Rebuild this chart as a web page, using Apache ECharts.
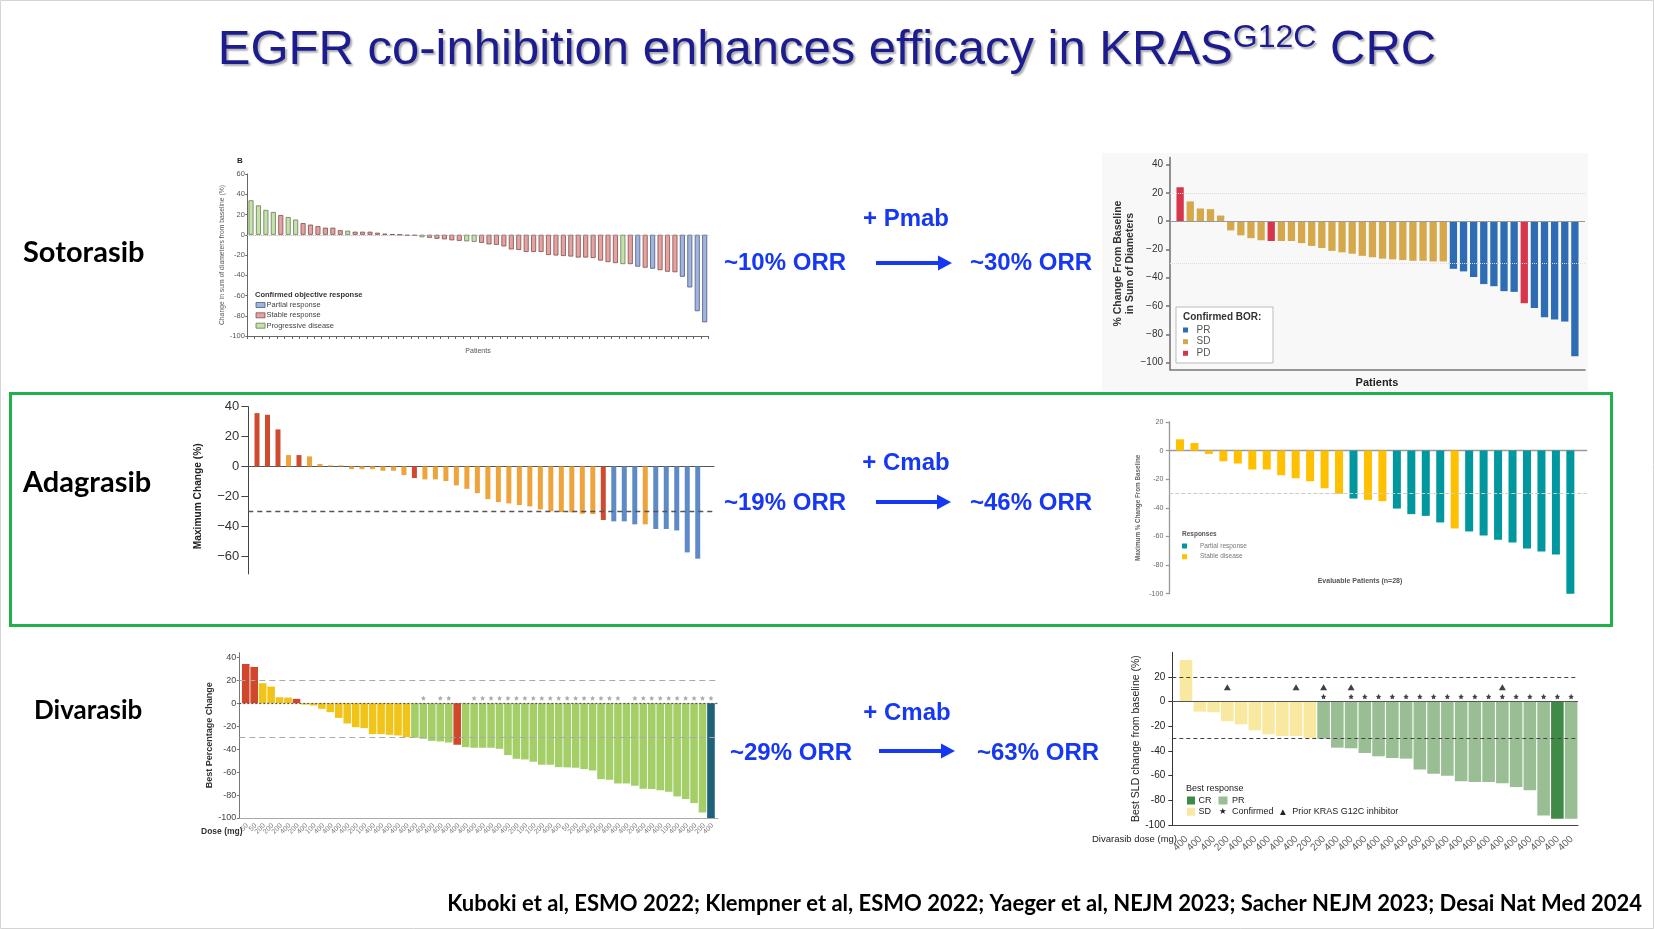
<!DOCTYPE html>
<html><head><meta charset="utf-8">
<script src="https://cdn.jsdelivr.net/npm/echarts@6/dist/echarts.min.js"></script>
<style>html,body{margin:0;padding:0;background:#fff}#c{width:1654px;height:929px}</style>
</head><body><div id="c"></div>
<script>
// ---------------- DATA ----------------
// Sotorasib monotherapy (Kuboki ESMO 2022 / CodeBreaK 100 CRC)
const sotoMonoValues = [34,29,24.5,22.5,19.5,17.5,15,11.5,10,8.5,7,7,4.5,4,3,3,3,2,1,0.5,0,-1,-1,-2.5,-3,-4,-4.5,-5.5,-6,-6.5,-7,-8,-9.5,-10,-11.5,-14.5,-15,-17,-17,-17,-20,-20.5,-21,-21.5,-22.5,-22.5,-23,-25.5,-27,-28,-29,-29,-31.5,-32.5,-33.5,-35,-36.5,-37,-41.5,-52,-75.5,-86.5];
// P = partial response, S = stable, D = progressive, C = complete
const sotoMonoResp = 'DDDDSDDSSSSSSDSSSSSSSSSDSSSSSDDSSSSSSSSSSSSSSSSSSSDSPSPSSSPPPP'.split('');
const sotoMonoTicks = [60,40,20,0,-20,-40,-60,-80,-100];

// Sotorasib + panitumumab
const sotoPmabValues = [24,14,9,8.5,4,-6.5,-10,-12,-13.5,-14,-14,-14,-15.5,-17.5,-19,-21,-22,-23,-24.5,-25.5,-26.5,-27,-27.5,-28,-28,-28.5,-28.5,-33.7,-35.5,-39.5,-44.5,-46,-49.5,-50,-58,-61.5,-68,-69.5,-71,-95.5];
const sotoPmabResp = 'DSSSSSSSSDSSSSSSSSSSSSSSSSSPPPPPPPDPPPPP'.split('');
const sotoPmabTicks = [40,20,0,-20,-40,-60,-80,-100];

// Adagrasib monotherapy
const adaMonoValues = [35.7,34.6,24.8,7.6,7.6,6.7,1.6,0.7,0.7,-1.8,-1.8,-1.8,-2.9,-2.9,-5.8,-7.8,-8.7,-8.7,-9.8,-12.7,-15,-17.9,-21.9,-23.9,-24.8,-25.9,-26.8,-28.8,-30.1,-30.6,-30.8,-31.7,-31.9,-35.9,-36.8,-36.8,-38.8,-38.8,-41.9,-41.9,-42.9,-57.6,-61.8];
const adaMonoResp = 'DDDSDSSSSSSSSSSDSSSSSSSSSSSSSSSSSDPPPSPPPPP'.split('');
const adaMonoTicks = [40,20,0,-20,-40,-60];

// Adagrasib + cetuximab
const adaCmabValues = [7.9,5.3,-2.3,-7.4,-9,-13.2,-13.2,-17.2,-19.3,-21.4,-26.3,-30.2,-33.5,-34.4,-35.3,-40.5,-44.4,-45.6,-50.2,-54.4,-56.5,-59.3,-62.3,-64.2,-68.4,-70.5,-72.6,-100];
const adaCmabResp = 'SSSSSSSSSSSSPSSPPPPSPPPPPPPP'.split('');
const adaCmabTicks = [20,0,-20,-40,-60,-80,-100];

// Divarasib monotherapy
const divMonoValues = [34.2,31.6,17.4,14.5,5.2,4.9,3.8,-1.2,-2,-4.9,-7.8,-12.8,-17.7,-20.9,-21.7,-26.9,-26.9,-27.5,-28.1,-29.6,-30.1,-31,-32.8,-33.3,-34.2,-36.2,-38.3,-38.8,-38.8,-38.8,-39.7,-45.2,-48.4,-49,-51,-53.6,-53.6,-55.7,-55.9,-56.2,-57.4,-58.6,-66.1,-66.7,-69.9,-69.9,-71.9,-74.5,-74.8,-75.9,-77.1,-81.2,-83.5,-87,-95.1,-100];
const divMonoResp = 'DDSSSSDSSSSSSSSSSSSSPPPPPDPPPPPPPPPPPPPPPPPPPPPPPPPPPPPC'.split('');
const divMonoDose = ['50','50','200','200','200','400','200','400','100','400','400','400','400','200','100','400','400','400','400','400','400','400','400','400','400','400','400','400','400','400','400','400','200','100','100','200','400','400','50','200','400','400','400','400','400','400','200','400','400','400','100','400','400','400','200','400'];
const divMonoStars = [22,24,25,28,29,30,31,32,33,34,35,36,37,38,39,40,41,42,43,44,45,47,48,49,50,51,52,53,54,55,56];
const divMonoTicks = [40,20,0,-20,-40,-60,-80,-100];

// Divarasib + cetuximab
const divCmabValues = [33.8,-8.1,-8.6,-15.9,-18.4,-23.2,-26.5,-27.8,-27.8,-29.5,-30,-37.3,-37.8,-41.6,-44.3,-45.7,-46.2,-55.1,-58.4,-60,-64.6,-65.1,-65.1,-66.2,-69.2,-71.9,-92.2,-94.9,-94.9];
const divCmabResp = 'SSSSSSSSSSPPPPPPPPPPPPPPPPPCP'.split('');
const divCmabDose = ['400','400','400','200','400','400','400','400','400','200','200','400','400','400','400','400','400','400','400','400','400','400','400','400','400','400','400','400','400'];
const divCmabStars = [11,13,14,15,16,17,18,19,20,21,22,23,24,25,26,27,28,29];
const divCmabPrior = [4,9,11,13,24];
const divCmabTicks = [20,0,-20,-40,-60,-80,-100];

// ---------------- HELPERS ----------------
const LS = '"Liberation Sans", Arial, sans-serif';
function barSeries(ci, values, resp, codes, colors, bw, borders) {
  return codes.map((code, k) => ({
    type: 'bar', xAxisIndex: ci, yAxisIndex: ci, barWidth: bw, barGap: '-100%',
    silent: true, animation: false,
    data: values.map((v, i) => resp[i] === code ? [i + 1, v] : [i + 1, '-']),
    itemStyle: borders ? {color: colors[k], borderColor: borders[k], borderWidth: 0.8} : {color: colors[k]}
  }));
}
function refLines(lines) {
  return {silent: true, symbol: 'none', label: {show: false}, animation: false,
    data: lines.map(l => ({yAxis: l.v, lineStyle: l.s}))};
}
function yAx(ci, min, max, ticks, o) {
  return {
    type: 'value', gridIndex: ci, min: min, max: max,
    axisLine: {show: true, lineStyle: {color: o.lc, width: o.lw || 1}},
    axisTick: {show: true, customValues: ticks, length: o.tl, lineStyle: {color: o.lc, width: o.lw || 1}},
    axisLabel: {customValues: ticks, fontSize: o.fs, color: o.tc, margin: o.m, fontFamily: o.ff || LS,
      fontWeight: o.fw || 'normal', formatter: o.fmt || (v => String(v))},
    splitLine: {show: false},
    name: o.name, nameLocation: 'middle', nameGap: o.ng,
    nameTextStyle: {fontSize: o.nfs, color: o.nc, fontWeight: o.nfw || 'normal', fontFamily: o.nff || LS, lineHeight: o.nlh, padding: o.npad || 0}
  };
}
const minus = v => String(v).replace('-', '\u2212');
// dose tick labels: rotated text hung under each bar on the x axis (y = axis minimum)
function doseLabels(ci, doses, yMin, pos, fs, color) {
  return {type: 'scatter', xAxisIndex: ci, yAxisIndex: ci, symbol: 'circle', symbolSize: 1, silent: true, animation: false, clip: false,
    itemStyle: {color: 'rgba(0,0,0,0)'},
    data: doses.map((d, i) => [i + 1, yMin]),
    label: {show: true, formatter: p => doses[p.dataIndex], rotate: 45, position: pos, align: 'right', verticalAlign: 'middle',
      fontSize: fs, color: color, fontFamily: LS}};
}

const grids = [
  {left: 247.3, top: 174, width: 461.1, height: 162},
  {left: 1170, top: 157.6, width: 415, height: 212},
  {left: 248.3, top: 406.7, width: 465.7, height: 167.2},
  {left: 1169.3, top: 422, width: 417.4, height: 171.7},
  {left: 239.3, top: 652.7, width: 478.7, height: 165.3},
  {left: 1172.3, top: 652.3, width: 405.7, height: 172.7}
].map(g => Object.assign(g, {containLabel: false, outerBoundsMode: 'none'}));

const xAxes = [
  {type: 'value', gridIndex: 0, min: 0.5, max: sotoMonoValues.length + 0.5,
   axisLine: {onZero: false, lineStyle: {color: '#666'}},
   axisTick: {show: true, customValues: sotoMonoValues.map((v, i) => i + 0.5).concat([sotoMonoValues.length + 0.5]), length: 3, lineStyle: {color: '#666'}},
   axisLabel: {show: false}, splitLine: {show: false}},
  {type: 'value', gridIndex: 1, min: 0, max: sotoPmabValues.length + 1,
   axisLine: {onZero: false, lineStyle: {color: '#777', width: 1.6}}, axisTick: {show: false}, axisLabel: {show: false}, splitLine: {show: false}},
  {type: 'value', gridIndex: 2, min: 0.17, max: 44.55,
   axisLine: {onZero: true, lineStyle: {color: '#555'}}, axisTick: {show: false}, axisLabel: {show: false}, splitLine: {show: false}},
  {type: 'value', gridIndex: 3, min: 0.26, max: 29.13,
   axisLine: {onZero: true, lineStyle: {color: '#999', width: 1.3}}, axisTick: {show: false}, axisLabel: {show: false}, splitLine: {show: false}},
  {type: 'value', gridIndex: 4, min: 0.24, max: 56.83,
   axisLine: {onZero: false, lineStyle: {color: '#aaa', width: 1.2}}, axisTick: {show: false}, axisLabel: {show: false}, splitLine: {show: false}},
  {type: 'value', gridIndex: 5, min: 0, max: 29.5,
   axisLine: {onZero: false, lineStyle: {color: '#444'}}, axisTick: {show: false}, axisLabel: {show: false}, splitLine: {show: false}}
];

const yAxes = [
  yAx(0, -100, 60, sotoMonoTicks, {lc: '#666', tl: 2, fs: 7.5, tc: '#555', m: 2.5,
      name: 'Change in sum of diameters from baseline (%)', ng: 22, nfs: 6.8, nc: '#555'}),
  yAx(1, -105, 45, sotoPmabTicks, {lc: '#777', lw: 1.6, tl: 4, fs: 10, tc: '#333', m: 7, fmt: minus,
      name: '% Change From Baseline\nin Sum of Diameters', ng: 34, nfs: 10.5, nc: '#333', nfw: 'bold', nlh: 12}),
  yAx(2, -72, 40, adaMonoTicks, {lc: '#444', tl: 7, fs: 13, tc: '#333', m: 9, fmt: minus,
      name: 'Maximum Change (%)', ng: 45, nfs: 10.2, nc: '#222', nfw: 'bold', npad: [0, 12, 0, 0]}),
  yAx(3, -100, 20, adaCmabTicks, {lc: '#999', lw: 1.3, tl: 3.5, fs: 7, tc: '#666', m: 6,
      name: 'Maximum % Change From Baseline', ng: 28, nfs: 6.3, nc: '#666', nfw: 'bold'}),
  yAx(4, -100, 44, divMonoTicks, {lc: '#777', tl: 2.5, fs: 9, tc: '#444', m: 3,
      name: 'Best Percentage Change', ng: 20, nfs: 9, nc: '#333', nfw: 'bold'}),
  yAx(5, -100, 40, divCmabTicks, {lc: '#333', tl: 4, fs: 10, tc: '#222', m: 7,
      name: 'Best SLD change from baseline (%)', ng: 30, nfs: 10.5, nc: '#222'})
];

// ---------------- SERIES ----------------
const s1 = barSeries(0, sotoMonoValues, sotoMonoResp, ['P', 'S', 'D'], ['#a0b4de', '#e5a2a1', '#c7e1ab'], 5, ['#4c5a80', '#7d4e4d', '#647a55']);
s1[0].markLine = refLines([{v: 0, s: {color: '#aaa', type: 'dotted', width: 1}}]);
const s2 = barSeries(1, sotoPmabValues, sotoPmabResp, ['P', 'S', 'D'], ['#2e6db4', '#d5a84c', '#d6354c'], 7.3);
s2[0].markLine = refLines([{v: 20, s: {color: '#ddd', type: 'dotted', width: 1}}, {v: -30, s: {color: '#ddd', type: 'dotted', width: 1}}, {v: 0, s: {color: '#999', type: 'solid', width: 1.2}}]);
const s3 = barSeries(2, adaMonoValues, adaMonoResp, ['D', 'S', 'P'], ['#cf4b2f', '#eea33b', '#5e8ac8'], 5);
s3[0].markLine = refLines([{v: -30, s: {color: '#555', type: [5, 4], width: 1.3}}]);
const s4 = barSeries(3, adaCmabValues, adaCmabResp, ['P', 'S'], ['#00979f', '#ffc000'], 8);
s4[0].markLine = refLines([{v: -30, s: {color: '#ccc', type: [4, 2], width: 1.2}}]);
const s5 = barSeries(4, divMonoValues, divMonoResp, ['D', 'S', 'P', 'C'], ['#d1472b', '#f1c419', '#a3ce68', '#1f607a'], 7.6);
s5[0].markLine = refLines([{v: 20, s: {color: '#aaa', type: [6, 4], width: 1.2}}, {v: -30, s: {color: '#aaa', type: [6, 4], width: 1.2}}, {v: 0, s: {color: '#555', type: [2, 2], width: 1.2}}]);
const s6 = barSeries(5, divCmabValues, divCmabResp, ['S', 'P', 'C'], ['#f9e9a0', '#99be93', '#408a48'], 12.6);
s6[0].markLine = refLines([{v: 20, s: {color: '#444', type: [4, 3], width: 1}}, {v: -30, s: {color: '#444', type: [4, 3], width: 1}}, {v: 0, s: {color: '#555', type: 'solid', width: 1}}]);

const STAR = 'path://M0,-10L2.94,-4.05L9.51,-3.09L4.76,1.55L5.88,8.09L0,5L-5.88,8.09L-4.76,1.55L-9.51,-3.09L-2.94,-4.05Z';
const starMono = {type: 'scatter', xAxisIndex: 4, yAxisIndex: 4, symbol: STAR, symbolSize: 5, silent: true, animation: false,
  itemStyle: {color: '#999'}, data: divMonoStars.map(i => [i, 4.4])};
const starCmab = {type: 'scatter', xAxisIndex: 5, yAxisIndex: 5, symbol: STAR, symbolSize: 5.5, silent: true, animation: false,
  itemStyle: {color: '#111'}, data: divCmabStars.map(i => [i, 4.1])};
const priorCmab = {type: 'scatter', xAxisIndex: 5, yAxisIndex: 5, symbol: 'triangle', symbolSize: [7, 6], silent: true, animation: false,
  itemStyle: {color: '#111'}, data: divCmabPrior.map(i => [i, 11.7])};
const doseMono = doseLabels(4, divMonoDose, -100, [2, 7], 7, '#555');
const doseCmab = doseLabels(5, divCmabDose, -100, [1, 13], 10, '#333');

// ---------------- GRAPHIC (slide text & decorations) ----------------
const BLUE = '#1738f2';
function txt(x, y, text, font, fill, align, extra) {
  return Object.assign({type: 'text', x: x, y: y, silent: true,
    style: {text: text, font: font, fill: fill || '#000', textAlign: align || 'left', textVerticalAlign: 'middle', align: align || 'left', verticalAlign: 'middle'}}, extra || {});
}
function arrow(x1, x2, y) {
  return [
    {type: 'line', silent: true, shape: {x1: x1, y1: y, x2: x2 - 12, y2: y}, style: {stroke: BLUE, lineWidth: 4}},
    {type: 'polygon', silent: true, shape: {points: [[x2 - 14, y - 7.5], [x2, y], [x2 - 14, y + 7.5]]}, style: {fill: BLUE}}
  ];
}
function sq(x, y, w, h, fill, stroke) {
  return {type: 'rect', silent: true, shape: {x: x, y: y - h / 2, width: w, height: h}, style: {fill: fill, stroke: stroke || null, lineWidth: stroke ? 0.8 : 0}};
}
const ORRF = 'bold 24px ' + LS;
const ROWF = 'bold 29px Lato, "Open Sans", sans-serif';
const LEGF = '9px ' + LS;
const graphic = [
  {type: 'rect', silent: true, z: -10, shape: {x: 0.5, y: 0.5, width: 1653, height: 928}, style: {fill: '#fff', stroke: '#d4d4d4', lineWidth: 1}},
  {type: 'rect', silent: true, z: -9, shape: {x: 1102, y: 153, width: 486, height: 238}, style: {fill: '#f8f8f8'}},
  {type: 'rect', silent: true, shape: {x: 10.5, y: 393.5, width: 1601, height: 232}, style: {fill: 'none', stroke: '#22b04c', lineWidth: 3}},
  txt(23, 253, 'Sotorasib', ROWF), txt(23, 483, 'Adagrasib', ROWF), txt(34, 711, 'Divarasib', 'bold 26px Lato, "Open Sans", sans-serif'),
  txt(906, 219, '+ Pmab', ORRF, BLUE, 'center'), txt(724, 263, '~10% ORR', ORRF, BLUE), txt(970, 263, '~30% ORR', ORRF, BLUE),
  txt(906, 463, '+ Cmab', ORRF, BLUE, 'center'), txt(724, 503, '~19% ORR', ORRF, BLUE), txt(970, 503, '~46% ORR', ORRF, BLUE),
  txt(907, 713, '+ Cmab', ORRF, BLUE, 'center'), txt(730, 753, '~29% ORR', ORRF, BLUE), txt(977, 753, '~63% ORR', ORRF, BLUE),
  ...arrow(876, 952, 263), ...arrow(876, 951, 502), ...arrow(879, 955, 751),
  txt(1642, 904, 'Kuboki et al, ESMO 2022; Klempner et al, ESMO 2022; Yaeger et al, NEJM 2023; Sacher NEJM 2023; Desai Nat Med 2024', 'bold 22px Lato, "Open Sans", sans-serif', '#000', 'right'),
  // chart 1 annotations
  txt(237, 161, 'B', 'bold 8px ' + LS, '#222'),
  txt(478, 351, 'Patients', '7px ' + LS, '#555', 'center'),
  txt(255, 295, 'Confirmed objective response', 'bold 7.5px ' + LS, '#333'),
  sq(256, 305, 9, 5, '#a0b4de', '#4c5a80'), txt(266.5, 305, 'Partial response', '7.5px ' + LS, '#444'),
  sq(256, 315.3, 9, 5, '#e5a2a1', '#7d4e4d'), txt(266.5, 315.3, 'Stable response', '7.5px ' + LS, '#444'),
  sq(256, 325.7, 9, 5, '#c7e1ab', '#647a55'), txt(266.5, 325.7, 'Progressive disease', '7.5px ' + LS, '#444'),
  // chart 2 annotations
  {type: 'rect', silent: true, shape: {x: 1176, y: 307, width: 97, height: 56}, style: {fill: '#fff', stroke: '#bbb', lineWidth: 1}},
  txt(1183, 317, 'Confirmed BOR:', 'bold 10px ' + LS, '#333'),
  sq(1183, 330, 5, 5, '#2e6db4'), txt(1196.5, 330, 'PR', '10px ' + LS, '#555'),
  sq(1183, 341.7, 5, 5, '#d5a84c'), txt(1196.5, 341.7, 'SD', '10px ' + LS, '#555'),
  sq(1183, 353.3, 5, 5, '#d6354c'), txt(1196.5, 353.3, 'PD', '10px ' + LS, '#555'),
  txt(1377, 383, 'Patients', 'bold 11px ' + LS, '#222', 'center'),
  // chart 4 annotations
  txt(1182, 534, 'Responses', 'bold 6.5px ' + LS, '#555'),
  sq(1182, 546, 5, 5, '#00979f'), txt(1200, 546, 'Partial response', '6.5px ' + LS, '#777'),
  sq(1182, 556.7, 5, 5, '#ffc000'), txt(1200, 556.7, 'Stable disease', '6.5px ' + LS, '#777'),
  txt(1360, 581, 'Evaluable Patients (n=28)', 'bold 7px ' + LS, '#555', 'center'),
  // chart 5 annotations
  txt(201, 832, 'Dose (mg)', 'bold 8.5px ' + LS, '#333'),
  // chart 6 annotations
  txt(1186, 789, 'Best response', LEGF, '#222'),
  sq(1187, 800.5, 8, 8, '#408a48'), txt(1198.5, 800.5, 'CR', LEGF, '#222'),
  sq(1218.5, 800.5, 9, 8, '#99be93'), txt(1232, 800.5, 'PR', LEGF, '#222'),
  sq(1187, 811.7, 8, 8, '#f9e9a0'), txt(1198.5, 811.7, 'SD', LEGF, '#222'),
  txt(1219, 811.7, '\u2605', '8.5px "DejaVu Sans"', '#222'), txt(1232, 811.7, 'Confirmed', LEGF, '#222'),
  txt(1280, 811.7, '\u25B2', '7.5px "DejaVu Sans"', '#222'), txt(1292.3, 811.7, 'Prior KRAS G12C inhibitor', LEGF, '#222'),
  txt(1092, 839, 'Divarasib dose (mg)', '9.5px ' + LS, '#222')
];

const TSH = {textShadowColor: 'rgba(0,0,0,0.33)', textShadowOffsetX: 2, textShadowOffsetY: 2, textShadowBlur: 2};
const option = {
  animation: false,
  backgroundColor: '#fff',
  title: {
    text: '{a|EGFR co-inhibition enhances efficacy in KRAS}{s|G12C}{a| CRC}',
    left: 'center', top: 17,
    textStyle: {rich: {
      a: Object.assign({fontSize: 49, fontWeight: 'normal', fontFamily: LS, color: '#1c1c8e', lineHeight: 56}, TSH),
      s: Object.assign({fontSize: 32, fontWeight: 'normal', fontFamily: LS, color: '#1c1c8e', lineHeight: 32, verticalAlign: 'top'}, TSH)
    }}
  },
  grid: grids, xAxis: xAxes, yAxis: yAxes,
  series: [...s1, ...s2, ...s3, ...s4, ...s5, ...s6, starMono, starCmab, priorCmab, doseMono, doseCmab],
  graphic: graphic
};
const chart = echarts.init(document.getElementById('c'), null, {renderer: 'canvas'});
chart.setOption(option);
</script></body></html>
